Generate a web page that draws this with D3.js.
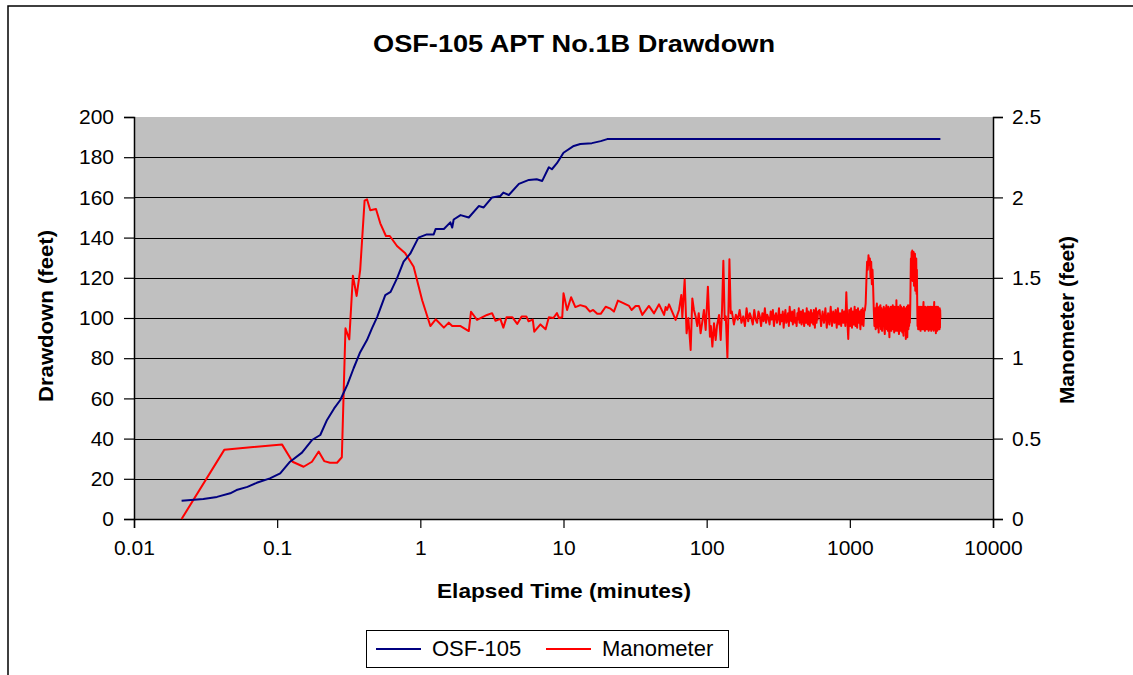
<!DOCTYPE html>
<html>
<head>
<meta charset="utf-8">
<script src="https://cdn.jsdelivr.net/npm/d3@7"></script>
<style>
  html, body { margin: 0; padding: 0; background: #fff; }
  svg text { font-family: "Liberation Sans", Arial, sans-serif; fill: #000; }
</style>
</head>
<body>
<svg id="chart" width="1133" height="675"></svg>
<script>
// ---- Axis ticks ----
const xTicks = [0.01, 0.1, 1, 10, 100, 1000, 10000];
const xTickLabels = ["0.01", "0.1", "1", "10", "100", "1000", "10000"];
const leftTicks = [0, 20, 40, 60, 80, 100, 120, 140, 160, 180, 200];
const rightTicks = [0, 0.5, 1, 1.5, 2, 2.5];
const rightTickLabels = ["0", "0.5", "1", "1.5", "2", "2.5"];

// ---- OSF-105 drawdown (feet) vs elapsed time (minutes) ----
const osfTime = [0.0215, 0.0305, 0.038, 0.047, 0.052, 0.062, 0.072, 0.089, 0.105, 0.123,
  0.149, 0.175, 0.2, 0.223, 0.25, 0.276, 0.31, 0.342, 0.38, 0.424,
  0.46, 0.5, 0.569, 0.62, 0.687, 0.764, 0.85, 0.97, 1.11, 1.24,
  1.28, 1.46, 1.62, 1.67, 1.71, 1.91, 2.18, 2.56, 2.77, 3.17,
  3.62, 3.8, 4.15, 4.88, 5.73, 6.5, 7.1, 7.9, 8.3, 9.0,
  10, 11.8, 13.1, 15.8, 18.2, 20.2, 4290];
const osfDrawdown = [9.1, 10, 11, 12.8, 14.4, 16, 18, 20.2, 22.7, 28.5,
  33, 39.3, 41.8, 49.3, 55, 59.2, 67, 75, 83, 89,
  95, 100.6, 111.4, 113, 119.7, 128, 132, 140, 141.6, 141.6,
  144.3, 144.3, 147.6, 145, 149, 151.2, 150, 155.7, 155, 160,
  160.7, 162.4, 161.2, 166.7, 168.7, 169, 168.2, 175, 174, 177,
  182.2, 185.6, 186.6, 187, 188, 189, 189];

// ---- Manometer (feet): early readings, irregular times ----
const manoTimeEarly = [0.0215, 0.0427, 0.108, 0.128, 0.153, 0.175, 0.195, 0.213, 0.234, 0.262,
  0.283, 0.30, 0.319, 0.338, 0.359, 0.38, 0.408, 0.424, 0.447, 0.49,
  0.525, 0.575, 0.612, 0.687, 0.785, 0.898, 1.03, 1.175, 1.28, 1.46,
  1.58, 1.67, 1.91, 2.18, 2.26, 2.49, 2.92, 3.17, 3.35, 3.62,
  3.8, 4.0, 4.4, 4.75, 5.1, 5.5, 5.7, 6.1, 6.25, 6.9,
  7.5, 7.9, 8.5, 9.0, 9.3, 9.8, 10.0, 10.6, 11.3, 12.1,
  13.1, 14.3, 15.3, 16.1, 17.2, 18.2, 19.7, 21.3, 22.5, 24.0,
  26.4, 28.7, 29.9, 31.9, 33.6, 35.5, 39.5, 42.9, 46.5, 50.4,
  51.7, 52.9, 54.6, 60.7, 64.1, 66.5, 67.6, 70.2, 72.4, 74.5,
  77.3, 79.4, 81.5, 83.8, 86, 88, 90.7, 93, 95.7, 98.4,
  102, 105.4, 107, 109.6, 112.5, 115.6, 118, 122, 125.3, 128,
  130.8, 133.6, 136, 139.6, 142, 144.2, 147.2];
const manoEarly = [0.0, 0.43, 0.464, 0.356, 0.325, 0.356, 0.42, 0.36, 0.35, 0.35,
  0.384, 1.186, 1.117, 1.513, 1.387, 1.548, 1.98, 1.988, 1.92, 1.928,
  1.839, 1.76, 1.76, 1.698, 1.652, 1.569, 1.36, 1.2, 1.242, 1.19,
  1.221, 1.2, 1.2, 1.169, 1.289, 1.238, 1.269, 1.28, 1.233, 1.245,
  1.19, 1.254, 1.254, 1.213, 1.26, 1.26, 1.23, 1.24, 1.165, 1.21,
  1.18, 1.255, 1.25, 1.28, 1.25, 1.255, 1.404, 1.3, 1.379, 1.318,
  1.33, 1.32, 1.29, 1.30, 1.276, 1.276, 1.32, 1.308, 1.29, 1.358,
  1.341, 1.325, 1.30, 1.325, 1.325, 1.269, 1.325, 1.279, 1.335, 1.269,
  1.318, 1.30, 1.335, 1.238, 1.30, 1.393, 1.254, 1.49, 1.155, 1.25,
  1.051, 1.372, 1.30, 1.258, 1.2, 1.28, 1.155, 1.22, 1.30, 1.176,
  1.445, 1.134, 1.20, 1.072, 1.217, 1.113, 1.2, 1.268, 1.113, 1.30,
  1.606, 1.238, 1.26, 1.005, 1.3, 1.615, 1.279];

// ---- Manometer: logger readings every 5 min from 150 to 600 min ----
const loggerAStart = 150, loggerAStep = 5;
const manoLoggerA = [
  1.29,1.21,1.27,1.24,1.30,1.22,1.26,1.20,1.31,1.23,
  1.28,1.25,1.21,1.30,1.24,1.22,1.29,1.26,1.20,1.28,
  1.23,1.31,1.22,1.27,1.25,1.21,1.29,1.24,1.30,1.20,
  1.26,1.28,1.22,1.25,1.31,1.21,1.27,1.23,1.29,1.19,
  1.26,1.30,1.22,1.24,1.28,1.20,1.32,1.25,1.23,1.29,
  1.21,1.27,1.30,1.22,1.25,1.20,1.28,1.24,1.31,1.22,
  1.26,1.29,1.21,1.25,1.30,1.23,1.20,1.28,1.26,1.22,
  1.31,1.24,1.21,1.29,1.27,1.20,1.25,1.30,1.23,1.22,
  1.28,1.21,1.30,1.25,1.19,1.27,1.31,1.22,1.26,1.24,1.29];

// ---- Manometer: logger readings every 15 min from 615 min on ----
const loggerBStart = 615, loggerBStep = 15;
const manoLoggerB = [
  1.30,1.20,1.29,1.22,1.31,1.19,1.28,1.21,1.32,1.20,
  1.29,1.22,1.30,1.19,1.31,1.21,1.28,1.20,1.30,1.22,
  1.29,1.20,1.41,1.24,1.12,1.30,1.20,1.31,1.19,1.29,
  1.21,1.32,1.20,1.30,1.19,1.31,1.22,1.29,1.18,1.30,
  1.21,1.31,1.20,1.29,1.30,1.34,1.48,1.60,1.55,1.64,
  1.58,1.62,1.50,1.60,1.46,1.55,1.44,1.30,1.20,1.31,
  1.18,1.30,1.34,1.19,1.31,1.16,1.32,1.20,1.33,1.18,
  1.31,1.17,1.30,1.20,1.32,1.18,1.15,1.31,1.19,1.33,
  1.18,1.30,1.17,1.32,1.20,1.13,1.31,1.18,1.32,1.17,
  1.30,1.19,1.33,1.18,1.31,1.16,1.32,1.19,1.30,1.17,
  1.36,1.19,1.31,1.17,1.32,1.18,1.15,1.31,1.19,1.33,
  1.17,1.32,1.19,1.30,1.16,1.31,1.18,1.14,1.32,1.19,
  1.31,1.17,1.30,1.12,1.31,1.18,1.32,1.13,1.30,1.33,
  1.18,1.31,1.20,1.33,1.22,1.30,1.45,1.62,1.50,1.66,
  1.55,1.67,1.48,1.64,1.52,1.66,1.45,1.63,1.50,1.65,
  1.42,1.60,1.48,1.62,1.40,1.55,1.35,1.20,1.31,1.18,
  1.30,1.19,1.32,1.18,1.31,1.20,1.30,1.17,1.32,1.19,
  1.31,1.20,1.30,1.18,1.32,1.19,1.31,1.35,1.18,1.30,
  1.19,1.31,1.17,1.32,1.20,1.30,1.18,1.31,1.19,1.30,
  1.18,1.32,1.19,1.31,1.20,1.30,1.17,1.32,1.19,1.31,
  1.18,1.30,1.20,1.32,1.19,1.31,1.17,1.30,1.20,1.32,
  1.19,1.31,1.18,1.30,1.20,1.32,1.17,1.31,1.35,1.19,
  1.30,1.18,1.32,1.19,1.30,1.155,1.31,1.18,1.32,1.20,
  1.30,1.17,1.31,1.19,1.32,1.18,1.30,1.20,1.31,1.19,
  1.30,1.18,1.31,1.19,1.30,1.25];

// ---- Assemble series ----
const osfData = osfTime.map((t, i) => ({ t, v: osfDrawdown[i] }));
const manoData = manoTimeEarly.map((t, i) => ({ t, v: manoEarly[i] }))
  .concat(manoLoggerA.map((v, i) => ({ t: loggerAStart + i * loggerAStep, v })))
  .concat(manoLoggerB.map((v, i) => ({ t: loggerBStart + i * loggerBStep, v })));

// ---- Layout ----
const plot = { left: 134, right: 993, top: 117, bottom: 519 };
const FONT = '"Liberation Sans", Arial, sans-serif';

const svg = d3.select("#chart");

// chart frame
svg.append("rect")
  .attr("x", 8).attr("y", 6).attr("width", 1200).attr("height", 700)
  .attr("fill", "#fff").attr("stroke", "#000").attr("stroke-width", 1.5);

const x = d3.scaleLog().domain([0.01, 10000]).range([plot.left, plot.right]);
const yL = d3.scaleLinear().domain([0, 200]).range([plot.bottom, plot.top]);
const yR = d3.scaleLinear().domain([0, 2.5]).range([plot.bottom, plot.top]);

// plot background
svg.append("rect")
  .attr("x", plot.left).attr("y", plot.top)
  .attr("width", plot.right - plot.left).attr("height", plot.bottom - plot.top)
  .attr("fill", "#c0c0c0");

// horizontal gridlines
svg.append("g")
  .selectAll("line")
  .data(leftTicks.filter(d => d > 0 && d < 200))
  .join("line")
  .attr("x1", plot.left).attr("x2", plot.right)
  .attr("y1", d => Math.round(yL(d)) + 0.5).attr("y2", d => Math.round(yL(d)) + 0.5)
  .attr("stroke", "#000").attr("stroke-width", 1);

// axes
const leftAxis = svg.append("g")
  .attr("transform", `translate(${plot.left},0)`)
  .call(d3.axisLeft(yL).tickValues(leftTicks).tickSize(10).tickPadding(10).tickFormat(d3.format("d")));
const rightAxis = svg.append("g")
  .attr("transform", `translate(${plot.right},0)`)
  .call(d3.axisRight(yR).tickValues(rightTicks).tickSize(10).tickPadding(9)
    .tickFormat((d, i) => rightTickLabels[i]));
const bottomAxis = svg.append("g")
  .attr("transform", `translate(0,${plot.bottom})`)
  .call(d3.axisBottom(x).tickValues(xTicks).tickSize(9).tickPadding(12)
    .tickFormat((d, i) => xTickLabels[i]));

[leftAxis, rightAxis, bottomAxis].forEach(g => {
  g.select(".domain").attr("stroke", "#000").attr("stroke-width", 1.5);
  g.selectAll(".tick line").attr("stroke", "#000").attr("stroke-width", 1.2);
  g.selectAll(".tick text").attr("font-family", FONT).attr("font-size", 21).attr("fill", "#000");
});

// series
const osfLine = d3.line().x(d => x(d.t)).y(d => yL(d.v));
const manoLine = d3.line().x(d => x(d.t)).y(d => yR(d.v));

svg.append("path").datum(manoData)
  .attr("d", manoLine).attr("fill", "none")
  .attr("stroke", "#ff0000").attr("stroke-width", 2).attr("stroke-linejoin", "round");

svg.append("path").datum(osfData)
  .attr("d", osfLine).attr("fill", "none")
  .attr("stroke", "#000080").attr("stroke-width", 2).attr("stroke-linejoin", "round");

// titles
svg.append("text")
  .attr("x", 574).attr("y", 52).attr("text-anchor", "middle")
  .attr("font-size", 24).attr("font-weight", "bold")
  .attr("textLength", 402).attr("lengthAdjust", "spacingAndGlyphs")
  .text("OSF-105 APT No.1B Drawdown");

svg.append("text")
  .attr("x", 564).attr("y", 598).attr("text-anchor", "middle")
  .attr("font-size", 21).attr("font-weight", "bold")
  .attr("textLength", 254).attr("lengthAdjust", "spacingAndGlyphs")
  .text("Elapsed Time (minutes)");

svg.append("text")
  .attr("transform", "translate(53,316) rotate(-90)")
  .attr("text-anchor", "middle")
  .attr("font-size", 21).attr("font-weight", "bold")
  .attr("textLength", 172).attr("lengthAdjust", "spacingAndGlyphs")
  .text("Drawdown (feet)");

svg.append("text")
  .attr("transform", "translate(1074,320) rotate(-90)")
  .attr("text-anchor", "middle")
  .attr("font-size", 21).attr("font-weight", "bold")
  .attr("textLength", 168).attr("lengthAdjust", "spacingAndGlyphs")
  .text("Manometer (feet)");

// legend
const legend = svg.append("g");
legend.append("rect")
  .attr("x", 366.5).attr("y", 630.5).attr("width", 362).attr("height", 37)
  .attr("fill", "#fff").attr("stroke", "#000").attr("stroke-width", 1);
const legendItems = [
  { name: "OSF-105", color: "#000080", x0: 376 },
  { name: "Manometer", color: "#ff0000", x0: 546 }
];
legendItems.forEach(it => {
  legend.append("line")
    .attr("x1", it.x0).attr("x2", it.x0 + 45).attr("y1", 649).attr("y2", 649)
    .attr("stroke", it.color).attr("stroke-width", 2);
  legend.append("text")
    .attr("x", it.x0 + 56).attr("y", 656)
    .attr("font-size", 22)
    .text(it.name);
});
</script>
</body>
</html>
